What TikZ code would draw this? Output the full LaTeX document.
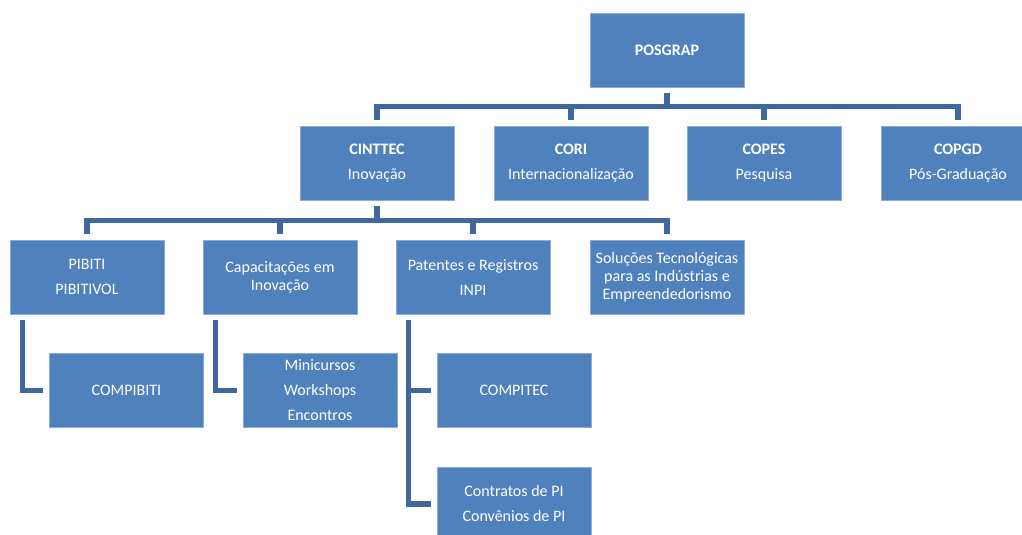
\documentclass[tikz,border=0pt]{standalone}
\usepackage{fontspec}
\setmainfont{Carlito}
\usepackage{tikz}

\definecolor{boxblue}{RGB}{79,129,189}
\definecolor{boxedge}{RGB}{140,170,215}
\definecolor{linkblue}{RGB}{62,104,158}

\tikzset{
  unit/.style={draw=boxedge,line width=0.6pt,fill=boxblue,text=white,
    minimum width=115.5pt,minimum height=55.5pt,align=center,inner sep=2pt,
    font=\fontsize{12}{13.5}\selectfont},
  link/.style={draw=linkblue,line width=4pt,shorten <=4.5pt,shorten >=4.5pt}
}

\begin{document}
\begin{tikzpicture}[x=0.75pt,y=-0.75pt]
    \useasboundingbox (0,0) rectangle (1022,535);
    \clip (0,0) rectangle (1022,535);

    % Top level
    \node[unit] (posgrap) at (667,50) {\textbf{POSGRAP}};

    % Coordinations
    \node[unit] (cinttec) at (377,163) {\textbf{CINTTEC}\\[5.25pt]Inovação};
    \node[unit] (cori)    at (571,163) {\textbf{CORI}\\[5.25pt]Internacionalização};
    \node[unit] (copes)   at (764,163) {\textbf{COPES}\\[5.25pt]Pesquisa};
    \node[unit] (copgd)   at (958,163) {\textbf{COPGD}\\[5.25pt]Pós-Graduação};

    % Programs of CINTTEC
    \node[unit] (pibiti)   at (87,277)  {PIBITI\\[5.25pt]PIBITIVOL};
    \node[unit] (capac)    at (280,277) {Capacitações em\\Inovação};
    \node[unit] (patentes) at (473,277) {Patentes e Registros\\[5.25pt]INPI};
    \node[unit] (solucoes) at (667,277) {Soluções Tecnológicas\\para as Indústrias e\\Empreendedorismo};

    % Lower level
    \node[unit] (compibiti)  at (126.5,390.5) {COMPIBITI};
    \node[unit] (minicursos) at (320,390.5)   {Minicursos\\[5.25pt]Workshops\\[5.25pt]Encontros};
    \node[unit] (compitec)   at (514,390.5)   {COMPITEC};
    \node[unit] (contratos)  at (514,504)     {Contratos de PI\\[5.25pt]Convênios de PI};

    % Connectors
    \foreach \c in {cinttec,cori,copes,copgd}
      \draw[link] (posgrap.south) -- ++(0,19) -| (\c.north);
    \foreach \c in {pibiti,capac,patentes,solucoes}
      \draw[link] (cinttec.south) -- ++(0,20) -| (\c.north);
    \draw[link] ([xshift=9.75pt]pibiti.south west) |- (compibiti.west);
    \draw[link] ([xshift=9.75pt]capac.south west) |- (minicursos.west);
    \draw[link] ([xshift=9.75pt]patentes.south west) |- (compitec.west);
    \draw[link] ([xshift=9.75pt]patentes.south west) |- (contratos.west);
\end{tikzpicture}
\end{document}
